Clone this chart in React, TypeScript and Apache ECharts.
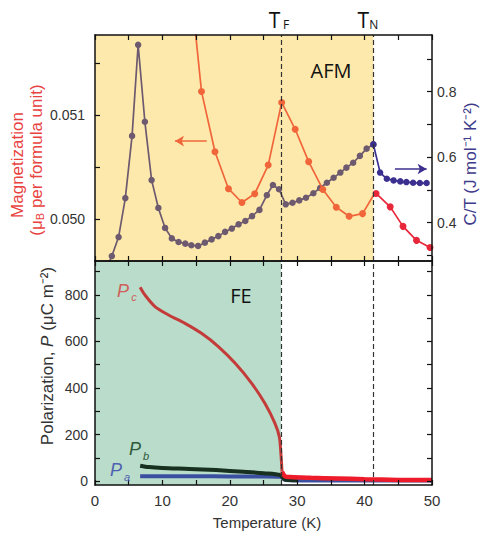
import React, { useEffect, useRef } from "react";
import * as echarts from "echarts";

// Transition temperatures (K)
const T_F = 27.6;
const T_N = 41.3;

// Specific heat C/T (right axis, top panel), AFM region
const TEMP_CT = [1.7, 2.5, 3.5, 4.5, 5.5, 6.4, 7.4, 8.4, 9.4, 10.4, 11.4, 12.4, 13.4, 14.3, 15.3, 16.3, 17.3, 18.3, 19.3, 20.3, 21.3, 22.3, 23.3, 24.4, 25.5, 26.4, 27.3, 28.3, 29.3, 30.3, 31.3, 32.4, 33.4, 34.4, 35.4, 36.4, 37.3, 38.3, 39.3, 40.3, 41.3];
const CT = [0.26, 0.298, 0.356, 0.475, 0.665, 0.943, 0.708, 0.53, 0.445, 0.384, 0.352, 0.341, 0.336, 0.331, 0.329, 0.339, 0.349, 0.359, 0.372, 0.382, 0.395, 0.405, 0.42, 0.439, 0.484, 0.515, 0.502, 0.456, 0.461, 0.468, 0.476, 0.49, 0.506, 0.522, 0.537, 0.553, 0.568, 0.583, 0.604, 0.626, 0.639];
// C/T above T_N
const TEMP_CT_PM = [41.3, 42.3, 43.3, 44.3, 45.3, 46.2, 47.2, 48.2, 49.2];
const CT_PM = [0.639, 0.553, 0.534, 0.529, 0.526, 0.524, 0.522, 0.521, 0.521];

// Magnetization (left axis, top panel)
const TEMP_M = [13.8, 15.8, 17.8, 19.8, 21.8, 23.7, 25.7, 27.7, 29.7, 31.7, 33.8, 35.8, 37.7, 39.7, 41.3];
const MAG = [0.0525, 0.051229, 0.050647, 0.050291, 0.050158, 0.050242, 0.050519, 0.051123, 0.050864, 0.050552, 0.050284, 0.050112, 0.050025, 0.050051, 0.050226];
const TEMP_M_PM = [41.7, 43.8, 45.7, 47.7, 49.7];
const MAG_PM = [0.050245, 0.050116, 0.049928, 0.049793, 0.049725];

// Polarization (bottom panel)
const TEMP_PC = [6.7, 7.4, 8.9, 10.9, 13.35, 15.8, 18.3, 20.8, 23.25, 25.2, 26.7, 27.35, 27.6, 27.75];
const PC = [833, 800, 750, 714, 678, 635, 578, 506, 420, 334, 248, 190, 110, 40];
const TEMP_PC_HI = [27.75, 28.2, 29, 32, 36, 40, 45, 50];
const PC_HI = [40, 20, 17, 14, 11, 8, 5, 4];
const TEMP_PB = [6.7, 8, 10, 14, 18, 22, 25, 27.5, 28.2, 30];
const PB = [66, 60, 56, 52, 47, 40, 34, 26, 6, 3];
const TEMP_PA = [6.7, 10, 15, 20, 25, 27.5, 28.3, 32, 40, 50];
const PA = [21, 21, 20.5, 20, 19.5, 18, 4, 2, 2, 2];

const zip = (xs: number[], ys: number[]) => xs.map((x, i) => [x, ys[i]]);

const FONT = '"Liberation Sans", Arial, sans-serif';
const AFONT = '"Open Sans", "Noto Sans", sans-serif';

const axisLine = { show: true, onZero: false, lineStyle: { color: "#111", width: 1.5 } };
const tickStyle = { color: "#111", width: 1.2 };

export default function App() {
  const ref = useRef<HTMLDivElement>(null);
  useEffect(() => {
    document.body.style.margin = "0";
    const chart = echarts.init(ref.current!, null, { renderer: "svg" });
    const xBase = (grid: number, pos: string, labels: boolean) => ({
      type: "value",
      gridIndex: grid,
      position: pos,
      min: 0,
      max: 50,
      interval: 5,
      z: 10,
      axisLine,
      axisTick: { inside: true, length: 5, lineStyle: tickStyle },
      splitLine: { show: false },
      axisLabel: labels
        ? {
            show: true,
            margin: 8,
            fontSize: 15,
            color: "#333",
            fontFamily: FONT,
            formatter: (v: number) => (v % 10 === 0 ? String(v) : ""),
          }
        : { show: false },
    });
    const option: any = {
      animation: false,
      grid: [
        { left: 95, top: 35, width: 337, height: 226 },
        { left: 95, top: 261, width: 337, height: 224 },
      ],
      xAxis: [xBase(0, "bottom", false), xBase(0, "top", false), xBase(1, "bottom", true), xBase(1, "top", false)],
      yAxis: [
        {
          type: "value",
          gridIndex: 0,
          position: "left",
          min: 0.049594,
          max: 0.051773,
          z: 10,
          axisLine,
          splitLine: { show: false },
          axisTick: { inside: true, length: 5, lineStyle: tickStyle, customValues: [0.05, 0.0505, 0.051, 0.0515] },
          axisLabel: {
            customValues: [0.05, 0.051],
            formatter: (v: number) => v.toFixed(3),
            fontSize: 14,
            color: "#333",
            fontFamily: FONT,
            margin: 10,
          },
        },
        {
          type: "value",
          gridIndex: 0,
          position: "right",
          min: 0.283,
          max: 0.973,
          z: 10,
          axisLine,
          splitLine: { show: false },
          axisTick: { inside: true, length: 5, lineStyle: tickStyle, customValues: [0.3, 0.4, 0.5, 0.6, 0.7, 0.8, 0.9] },
          axisLabel: {
            customValues: [0.4, 0.6, 0.8],
            formatter: (v: number) => v.toFixed(1),
            fontSize: 14,
            color: "#333",
            fontFamily: FONT,
            margin: 5,
          },
        },
        {
          type: "value",
          gridIndex: 1,
          position: "left",
          min: -17,
          max: 946,
          z: 10,
          axisLine,
          splitLine: { show: false },
          axisTick: { inside: true, length: 5, lineStyle: tickStyle, customValues: [0, 100, 200, 300, 400, 500, 600, 700, 800, 900] },
          axisLabel: {
            customValues: [0, 200, 400, 600, 800],
            fontSize: 14,
            color: "#333",
            fontFamily: FONT,
            margin: 7,
          },
        },
        {
          type: "value",
          gridIndex: 1,
          position: "right",
          min: -17,
          max: 946,
          z: 10,
          axisLine,
          splitLine: { show: false },
          axisTick: { inside: true, length: 5, lineStyle: tickStyle, customValues: [0, 100, 200, 300, 400, 500, 600, 700, 800, 900] },
          axisLabel: { show: false },
        },
      ],
      series: [
        {
          name: "C/T",
          type: "line",
          xAxisIndex: 0,
          yAxisIndex: 1,
          data: zip(TEMP_CT, CT).map((p, i) => (i === 0 ? { value: p, symbol: "none" } : p)),
          symbol: "circle",
          symbolSize: 6.5,
          showAllSymbol: true,
          lineStyle: { color: "#6d5a6f", width: 1.7 },
          itemStyle: { color: "#6d5a6f" },
          z: 3,
          markArea: {
            silent: true,
            itemStyle: { color: "#fde9ac" },
            data: [[{ xAxis: 0 }, { xAxis: T_N }]],
          },
          markLine: {
            silent: true,
            symbol: "none",
            label: { show: false },
            lineStyle: { color: "#333", type: [5, 3], width: 1.2 },
            data: [{ xAxis: T_F }, { xAxis: T_N }],
          },
        },
        {
          name: "C/T PM",
          type: "line",
          xAxisIndex: 0,
          yAxisIndex: 1,
          data: zip(TEMP_CT_PM, CT_PM),
          symbol: "circle",
          symbolSize: 6.5,
          showAllSymbol: true,
          lineStyle: { color: "#3b2f8f", width: 1.7 },
          itemStyle: { color: "#3b2f8f" },
          z: 3,
          markLine: {
            silent: true,
            label: { show: false },
            symbol: ["none", "arrow"],
            symbolSize: [8, 9],
            lineStyle: { color: "#3b2f8f", type: "solid", width: 1.5 },
            data: [[{ coord: [44.5, 0.564] }, { coord: [49.2, 0.564] }]],
          },
        },
        {
          name: "M",
          type: "line",
          xAxisIndex: 0,
          yAxisIndex: 0,
          data: zip(TEMP_M, MAG).map((p, i) => (i === 0 || i === TEMP_M.length - 1 ? { value: p, symbol: "none" } : p)),
          symbol: "circle",
          symbolSize: 7,
          showAllSymbol: true,
          lineStyle: { color: "#f0663a", width: 1.7 },
          itemStyle: { color: "#f0663a" },
          z: 4,
          markLine: {
            silent: true,
            label: { show: false },
            symbol: ["none", "arrow"],
            symbolSize: [8, 9],
            lineStyle: { color: "#f0663a", type: "solid", width: 1.5 },
            data: [[{ coord: [16.57, 0.05075] }, { coord: [11.87, 0.05075] }]],
          },
        },
        {
          name: "M PM",
          type: "line",
          xAxisIndex: 0,
          yAxisIndex: 0,
          data: zip(TEMP_M_PM, MAG_PM),
          symbol: "circle",
          symbolSize: 7,
          showAllSymbol: true,
          lineStyle: { color: "#e8283a", width: 1.7 },
          itemStyle: { color: "#e8283a" },
          z: 4,
        },
        {
          name: "Pa",
          type: "line",
          xAxisIndex: 2,
          yAxisIndex: 2,
          data: zip(TEMP_PA, PA),
          symbol: "none",
          smooth: 0.3,
          lineStyle: { color: "#3a4fa0", width: 4 },
          z: 3,
          markArea: {
            silent: true,
            itemStyle: { color: "#b9dccb" },
            data: [[{ xAxis: 0 }, { xAxis: T_F }]],
          },
          markLine: {
            silent: true,
            symbol: "none",
            label: { show: false },
            lineStyle: { color: "#333", type: [5, 3], width: 1.2 },
            data: [{ xAxis: T_F }, { xAxis: T_N }],
          },
        },
        {
          name: "Pb",
          type: "line",
          xAxisIndex: 2,
          yAxisIndex: 2,
          data: zip(TEMP_PB, PB),
          symbol: "none",
          smooth: 0.3,
          lineStyle: { color: "#17301f", width: 4 },
          z: 3,
        },
        {
          name: "Pc",
          type: "line",
          xAxisIndex: 2,
          yAxisIndex: 2,
          data: zip(TEMP_PC, PC),
          symbol: "none",
          smooth: 0.3,
          lineStyle: { color: "#c43c3a", width: 3 },
          z: 4,
        },
        {
          name: "Pc hi",
          type: "line",
          xAxisIndex: 2,
          yAxisIndex: 2,
          data: zip(TEMP_PC_HI, PC_HI),
          symbol: "none",
          smooth: 0.3,
          lineStyle: { color: "#ee1c2a", width: 4.5 },
          z: 4,
        },
      ],
    };
    chart.setOption(option);

    const xF = chart.convertToPixel({ xAxisIndex: 0 }, T_F) as number;
    const xN = chart.convertToPixel({ xAxisIndex: 0 }, T_N) as number;
    const txt = (x: number, y: number, text: string, size: number, fill: string, extra: any = {}) => ({
      type: "text",
      x,
      y,
      z: 20,
      style: {
        text,
        fontSize: size,
        fontFamily: extra.fontFamily || FONT,
        fontStyle: extra.fontStyle || "normal",
        fill,
        align: "center",
        verticalAlign: "middle",
        rich: extra.rich,
      },
      rotation: extra.rotation || 0,
    });
    chart.setOption({
      graphic: [
        txt(xF - 6.5, 20, "T", 21, "#111", { fontFamily: AFONT }),
        txt(xF + 5, 24, "F", 12, "#111", { fontFamily: AFONT }),
        txt(xN - 10, 20, "T", 21, "#111", { fontFamily: AFONT }),
        txt(xN + 0.5, 24, "N", 12, "#111", { fontFamily: AFONT }),
        txt(331, 70, "AFM", 20, "#111", { fontFamily: AFONT }),
        txt(241, 295, "FE", 20, "#111", { fontFamily: AFONT }),
        txt(17, 165, "Magnetization", 17, "#e8423f", { rotation: Math.PI / 2 }),
        txt(36, 160, "{a|(μ}{b|B}{a| per formula unit)}", 17, "#e8423f", {
          rotation: Math.PI / 2,
          rich: {
            a: { fontSize: 17, fontFamily: FONT, fill: "#e8423f" },
            b: { fontSize: 11, fontFamily: FONT, fill: "#e8423f", verticalAlign: "bottom", padding: [8, 0, 0, 0] },
          },
        }),
        txt(470, 164, "C/T (J mol⁻¹ K⁻²)", 17, "#3e3a8c", { rotation: Math.PI / 2 }),
        txt(47, 356, "{a|Polarization, }{i|P}{a| (μC m⁻²)}", 17, "#333", {
          rotation: Math.PI / 2,
          rich: {
            a: { fontSize: 17, fontFamily: FONT, fill: "#333" },
            i: { fontSize: 17, fontFamily: FONT, fill: "#333", fontStyle: "italic" },
          },
        }),
        txt(267, 522, "Temperature (K)", 15, "#333"),
        txt(123, 291, "P", 18, "#d0605a", { fontStyle: "italic" }),
        txt(134, 297, "c", 11, "#d0605a", { fontStyle: "italic" }),
        txt(135, 449, "P", 18, "#2e5a3a", { fontStyle: "italic" }),
        txt(146, 456, "b", 11, "#2e5a3a", { fontStyle: "italic" }),
        txt(116, 470, "P", 18, "#5060b0", { fontStyle: "italic" }),
        txt(127, 477, "a", 11, "#5060b0", { fontStyle: "italic" }),
      ],
    });
    return () => chart.dispose();
  }, []);
  return <div ref={ref} style={{ width: 486, height: 535 }} />;
}
